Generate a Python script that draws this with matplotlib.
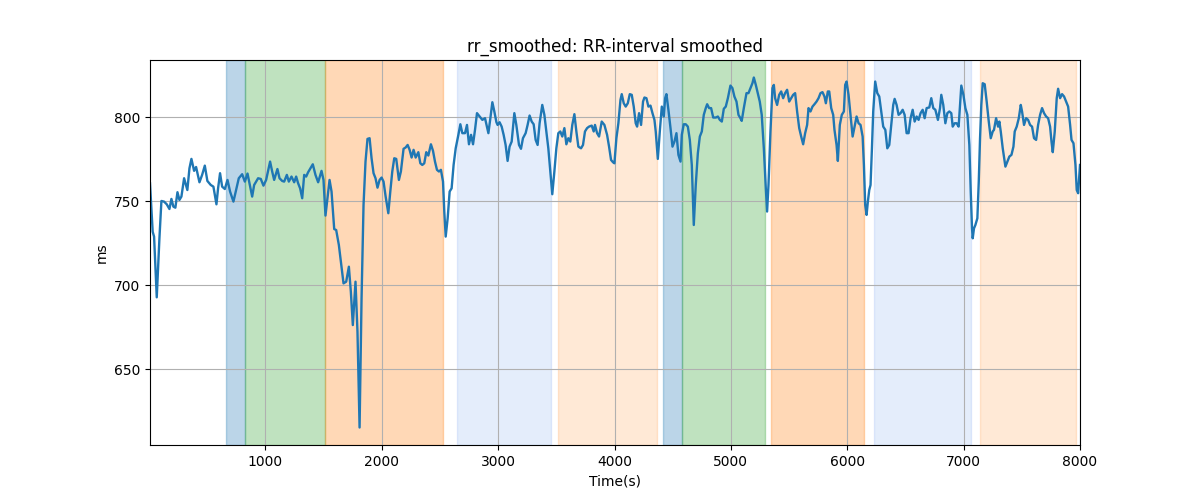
"""rr_smoothed: RR-interval smoothed, with shaded phases."""

import matplotlib

matplotlib.use("Agg")
import matplotlib.pyplot as plt

# Time (s) and smoothed RR interval (ms)
time_s: list[float] = [
    8, 31, 43, 66, 89, 106, 129, 152, 175, 192, 209, 226, 244, 261, 278, 301, 329, 347, 364, 387,
    404, 433, 456, 479, 501, 530, 553, 579, 593, 610, 628, 651, 674, 696, 725, 748, 771, 800, 823, 846,
    863, 886, 903, 937, 960, 983,
    1006, 1023, 1040, 1058, 1075, 1103, 1121, 1144, 1161, 1184, 1201, 1224, 1247, 1264, 1281, 1298,
    1316, 1333, 1350, 1367, 1390, 1407, 1430, 1453, 1482, 1499, 1516, 1533, 1551, 1568, 1591, 1608,
    1631, 1648, 1671, 1694, 1717, 1734, 1751, 1774, 1791, 1809, 1826, 1843, 1860, 1877, 1895, 1912,
    1929, 1946, 1963, 1981, 1998,
    2015, 2033, 2056, 2073, 2090, 2107, 2124, 2147, 2164, 2187, 2205, 2222, 2239, 2256, 2273, 2291,
    2314, 2331, 2348, 2365, 2382, 2400, 2422, 2440, 2457, 2474, 2491, 2508, 2526, 2537, 2549, 2566,
    2583, 2600, 2617, 2635, 2658, 2675, 2692, 2715, 2732, 2749, 2767, 2784, 2801, 2818, 2841, 2864,
    2887, 2916, 2933, 2950, 2967,
    2985, 2995, 3012, 3030, 3047, 3064, 3081, 3098, 3116, 3139, 3156, 3179, 3196, 3213, 3236, 3253,
    3270, 3288, 3305, 3322, 3339, 3356, 3379, 3397, 3414, 3431, 3448, 3465, 3483, 3500, 3517, 3534,
    3551, 3569, 3586, 3603, 3620, 3637, 3655, 3672, 3689, 3712, 3729, 3746, 3764, 3781, 3804, 3821,
    3832, 3850, 3867, 3890, 3913, 3936, 3953, 3970, 3987,
    3999, 4016, 4033, 4051, 4062, 4079, 4096, 4114, 4131, 4148, 4165, 4182, 4194, 4211, 4228, 4245,
    4257, 4274, 4291, 4309, 4326, 4343, 4354, 4372, 4389, 4406, 4423, 4435, 4446, 4463, 4481, 4498,
    4515, 4532, 4549, 4567, 4578, 4595, 4612, 4630, 4647, 4664, 4681, 4698, 4716, 4733, 4750, 4767,
    4784, 4796, 4813, 4830, 4848, 4871, 4888, 4905, 4922, 4939, 4956, 4974,
    4996, 5013, 5030, 5048, 5065, 5082, 5093, 5111, 5134, 5151, 5168, 5185, 5197, 5214, 5231, 5248,
    5265, 5283, 5300, 5311, 5323, 5340, 5357, 5369, 5380, 5397, 5415, 5432, 5449, 5466, 5483, 5501,
    5518, 5535, 5552, 5569, 5587, 5604, 5621, 5638, 5655, 5667, 5684, 5701, 5718, 5736, 5753, 5770,
    5787, 5804, 5816, 5833, 5845, 5862, 5879, 5890, 5908, 5919, 5936, 5953, 5971, 5982,
    5994, 6011, 6028, 6046, 6063, 6080, 6097, 6114, 6132, 6143, 6154, 6166, 6177, 6189, 6200, 6212,
    6223, 6240, 6258, 6275, 6292, 6309, 6327, 6344, 6361, 6378, 6395, 6407, 6424, 6441, 6458, 6476,
    6493, 6510, 6527, 6544, 6562, 6579, 6596, 6613, 6630, 6648, 6665, 6682, 6705, 6722, 6739, 6757,
    6779, 6797, 6808, 6825, 6843, 6860, 6877, 6894, 6906, 6923, 6940, 6957,
    6980, 6998, 7015, 7032, 7049, 7061, 7072, 7078, 7089, 7101, 7118, 7130, 7141, 7152, 7164, 7181,
    7198, 7216, 7233, 7250, 7261, 7279, 7296, 7307, 7319, 7336, 7359, 7376, 7393, 7411, 7428, 7439,
    7456, 7474, 7491, 7502, 7519, 7537, 7554, 7571, 7588, 7605, 7623, 7640, 7657, 7674, 7691, 7709,
    7726, 7743, 7755, 7766, 7783, 7800, 7812, 7829, 7846, 7863, 7881, 7898, 7915, 7927, 7944, 7961,
    7972, 7984, 8000,
]
rr_ms: list[float] = [
    760.7, 731.9, 729.0, 692.9, 728.0, 750.2, 749.8, 748.2, 745.4, 751.4, 746.8, 746.2, 755.4, 750.8,
    752.8, 763.7, 756.7, 769.6, 775.2, 768.1, 770.4, 761.3, 765.7, 771.2, 762.1, 759.7, 758.7, 748.2,
    757.7, 766.7, 758.7, 757.3, 762.7, 755.8, 749.8, 756.7, 763.7, 766.1, 761.7, 766.5, 760.7, 752.8,
    759.7, 763.7, 763.3, 759.3,
    762.7, 768.1, 773.6, 767.7, 762.7, 769.2, 763.7, 762.1, 761.7, 765.7, 761.7, 764.7, 761.3, 764.7,
    760.7, 757.7, 751.8, 765.7, 764.7, 767.3, 770.0, 772.0, 765.7, 761.3, 768.1, 762.7, 741.5, 751.8,
    762.7, 755.8, 733.5, 732.9, 724.0, 714.1, 701.2, 702.2, 711.1, 696.2, 676.4, 702.2, 672.4, 615.5,
    692.3, 747.8, 773.6, 787.1, 787.5, 775.6, 766.7, 763.7, 758.1, 762.7, 764.1,
    761.7, 752.8, 742.9, 755.8, 767.7, 775.6, 775.2, 762.7, 767.7, 781.2, 782.0, 783.5, 780.6, 776.0,
    780.6, 776.0, 779.2, 772.6, 771.6, 772.6, 779.2, 777.2, 783.9, 780.0, 773.6, 768.7, 767.7, 768.7,
    761.7, 743.9, 729.0, 739.9, 755.8, 757.7, 771.6, 781.5, 789.5, 795.8, 790.5, 790.5, 795.4, 783.9,
    789.5, 783.9, 792.5, 802.4, 800.4, 798.4, 799.4, 790.5, 799.4, 808.9, 803.4,
    797.0, 795.4, 797.0, 794.4, 789.5, 783.5, 774.0, 782.5, 785.5, 802.4, 795.4, 783.5, 781.2, 787.5,
    790.5, 795.4, 801.0, 797.4, 795.8, 786.5, 783.5, 796.4, 807.3, 801.4, 791.5, 781.5, 767.7, 754.2,
    767.7, 781.5, 790.5, 791.5, 788.5, 793.5, 783.9, 787.5, 785.5, 795.4, 801.8, 791.5, 782.5, 781.5,
    783.5, 791.5, 793.5, 794.4, 795.0, 791.5, 795.4, 790.5, 788.5, 797.4, 795.4, 789.5, 782.5, 774.6,
    773.2,
    772.6, 787.5, 796.4, 810.3, 813.7, 808.3, 806.3, 808.3, 813.7, 813.3, 806.3, 796.4, 794.4, 802.4,
    795.4, 809.3, 811.7, 811.3, 806.3, 806.9, 802.4, 798.4, 791.5, 775.2, 791.5, 806.3, 800.4, 811.3,
    813.7, 804.4, 793.5, 782.5, 785.5, 790.5, 777.6, 773.6, 789.5, 795.8, 795.8, 794.4, 786.5, 771.6,
    735.9, 759.7, 778.6, 788.5, 791.5, 801.4, 805.4, 807.7, 805.4, 805.4, 799.8, 799.8, 800.4, 798.4,
    797.4, 805.0, 806.3, 811.3,
    818.8, 817.3, 812.3, 809.3, 801.4, 799.4, 797.8, 805.4, 814.3, 814.3, 817.3, 820.2, 823.6, 819.2,
    814.3, 809.3, 801.4, 781.5, 757.7, 743.9, 759.7, 791.5, 817.3, 819.2, 811.3, 807.3, 813.3, 815.3,
    811.3, 814.3, 816.3, 809.3, 811.3, 813.3, 814.3, 803.4, 793.5, 788.5, 783.9, 790.5, 795.4, 805.4,
    803.4, 806.3, 807.7, 809.3, 811.3, 814.3, 814.9, 812.3, 808.3, 815.3, 815.3, 805.4, 801.4, 792.5,
    783.5, 774.0, 795.4, 801.4, 803.4, 819.2,
    821.2, 813.3, 801.4, 788.5, 794.4, 800.4, 796.4, 795.4, 788.5, 771.6, 747.8, 741.9, 749.8, 756.7,
    759.7, 781.5, 803.4, 821.2, 814.3, 812.3, 803.4, 794.4, 792.5, 781.5, 783.5, 795.4, 807.3, 810.9,
    807.3, 801.4, 802.4, 804.4, 801.4, 790.5, 790.5, 799.4, 804.4, 797.4, 800.4, 798.4, 802.4, 804.4,
    799.4, 805.4, 805.8, 811.3, 805.4, 804.4, 798.4, 805.4, 813.3, 807.3, 796.4, 802.4, 803.4, 802.4,
    794.4, 796.4, 796.4, 794.4,
    818.8, 813.3, 805.4, 801.4, 783.5, 755.8, 733.9, 728.0, 733.9, 735.9, 739.9, 761.7, 787.5, 807.3,
    820.2, 819.6, 809.3, 797.4, 787.5, 791.5, 792.5, 799.4, 794.4, 797.4, 791.5, 781.5, 770.6, 773.6,
    776.6, 777.6, 782.5, 791.5, 794.4, 799.4, 807.3, 803.4, 795.4, 799.4, 798.4, 795.4, 794.4, 787.5,
    786.5, 795.4, 801.4, 805.4, 802.4, 800.4, 799.4, 794.4, 785.5, 779.2, 791.5, 811.3, 816.9, 811.3,
    813.7, 812.3, 809.3, 806.3, 795.4, 786.5, 784.5, 771.6, 756.7, 754.8, 771.6,
]

# Shaded phases: start (s), end (s), phase kind
span_start: list[float] = [664, 824, 1510, 2643, 3511, 4414, 4580, 5343, 6229, 7141]
span_end: list[float] = [824, 1510, 2525, 3457, 4363, 4580, 5289, 6140, 7063, 7966]
span_kind: list[str] = ["A", "B", "C", "D", "E", "A", "B", "C", "D", "E"]

SPAN_STYLE: dict[str, tuple[str, float]] = {
    "A": ("tab:blue", 0.3),
    "B": ("tab:green", 0.3),
    "C": ("tab:orange", 0.3),
    "D": ("cornflowerblue", 0.17),
    "E": ("tab:orange", 0.17),
}


def main() -> None:
    """Draw and save the figure."""
    fig, ax = plt.subplots(figsize=(12, 5), dpi=100)

    for start, end, kind in zip(span_start, span_end, span_kind):
        color, alpha = SPAN_STYLE[kind]
        ax.axvspan(start, end, color=color, alpha=alpha)

    ax.plot(time_s, rr_ms, color="tab:blue", lw=1.7)

    ax.set_xlim(time_s[0], time_s[-1])
    ax.set_title("rr_smoothed: RR-interval smoothed")
    ax.set_xlabel("Time(s)")
    ax.set_ylabel("ms")
    ax.grid(True)

    fig.savefig("out.png")


if __name__ == "__main__":
    main()
